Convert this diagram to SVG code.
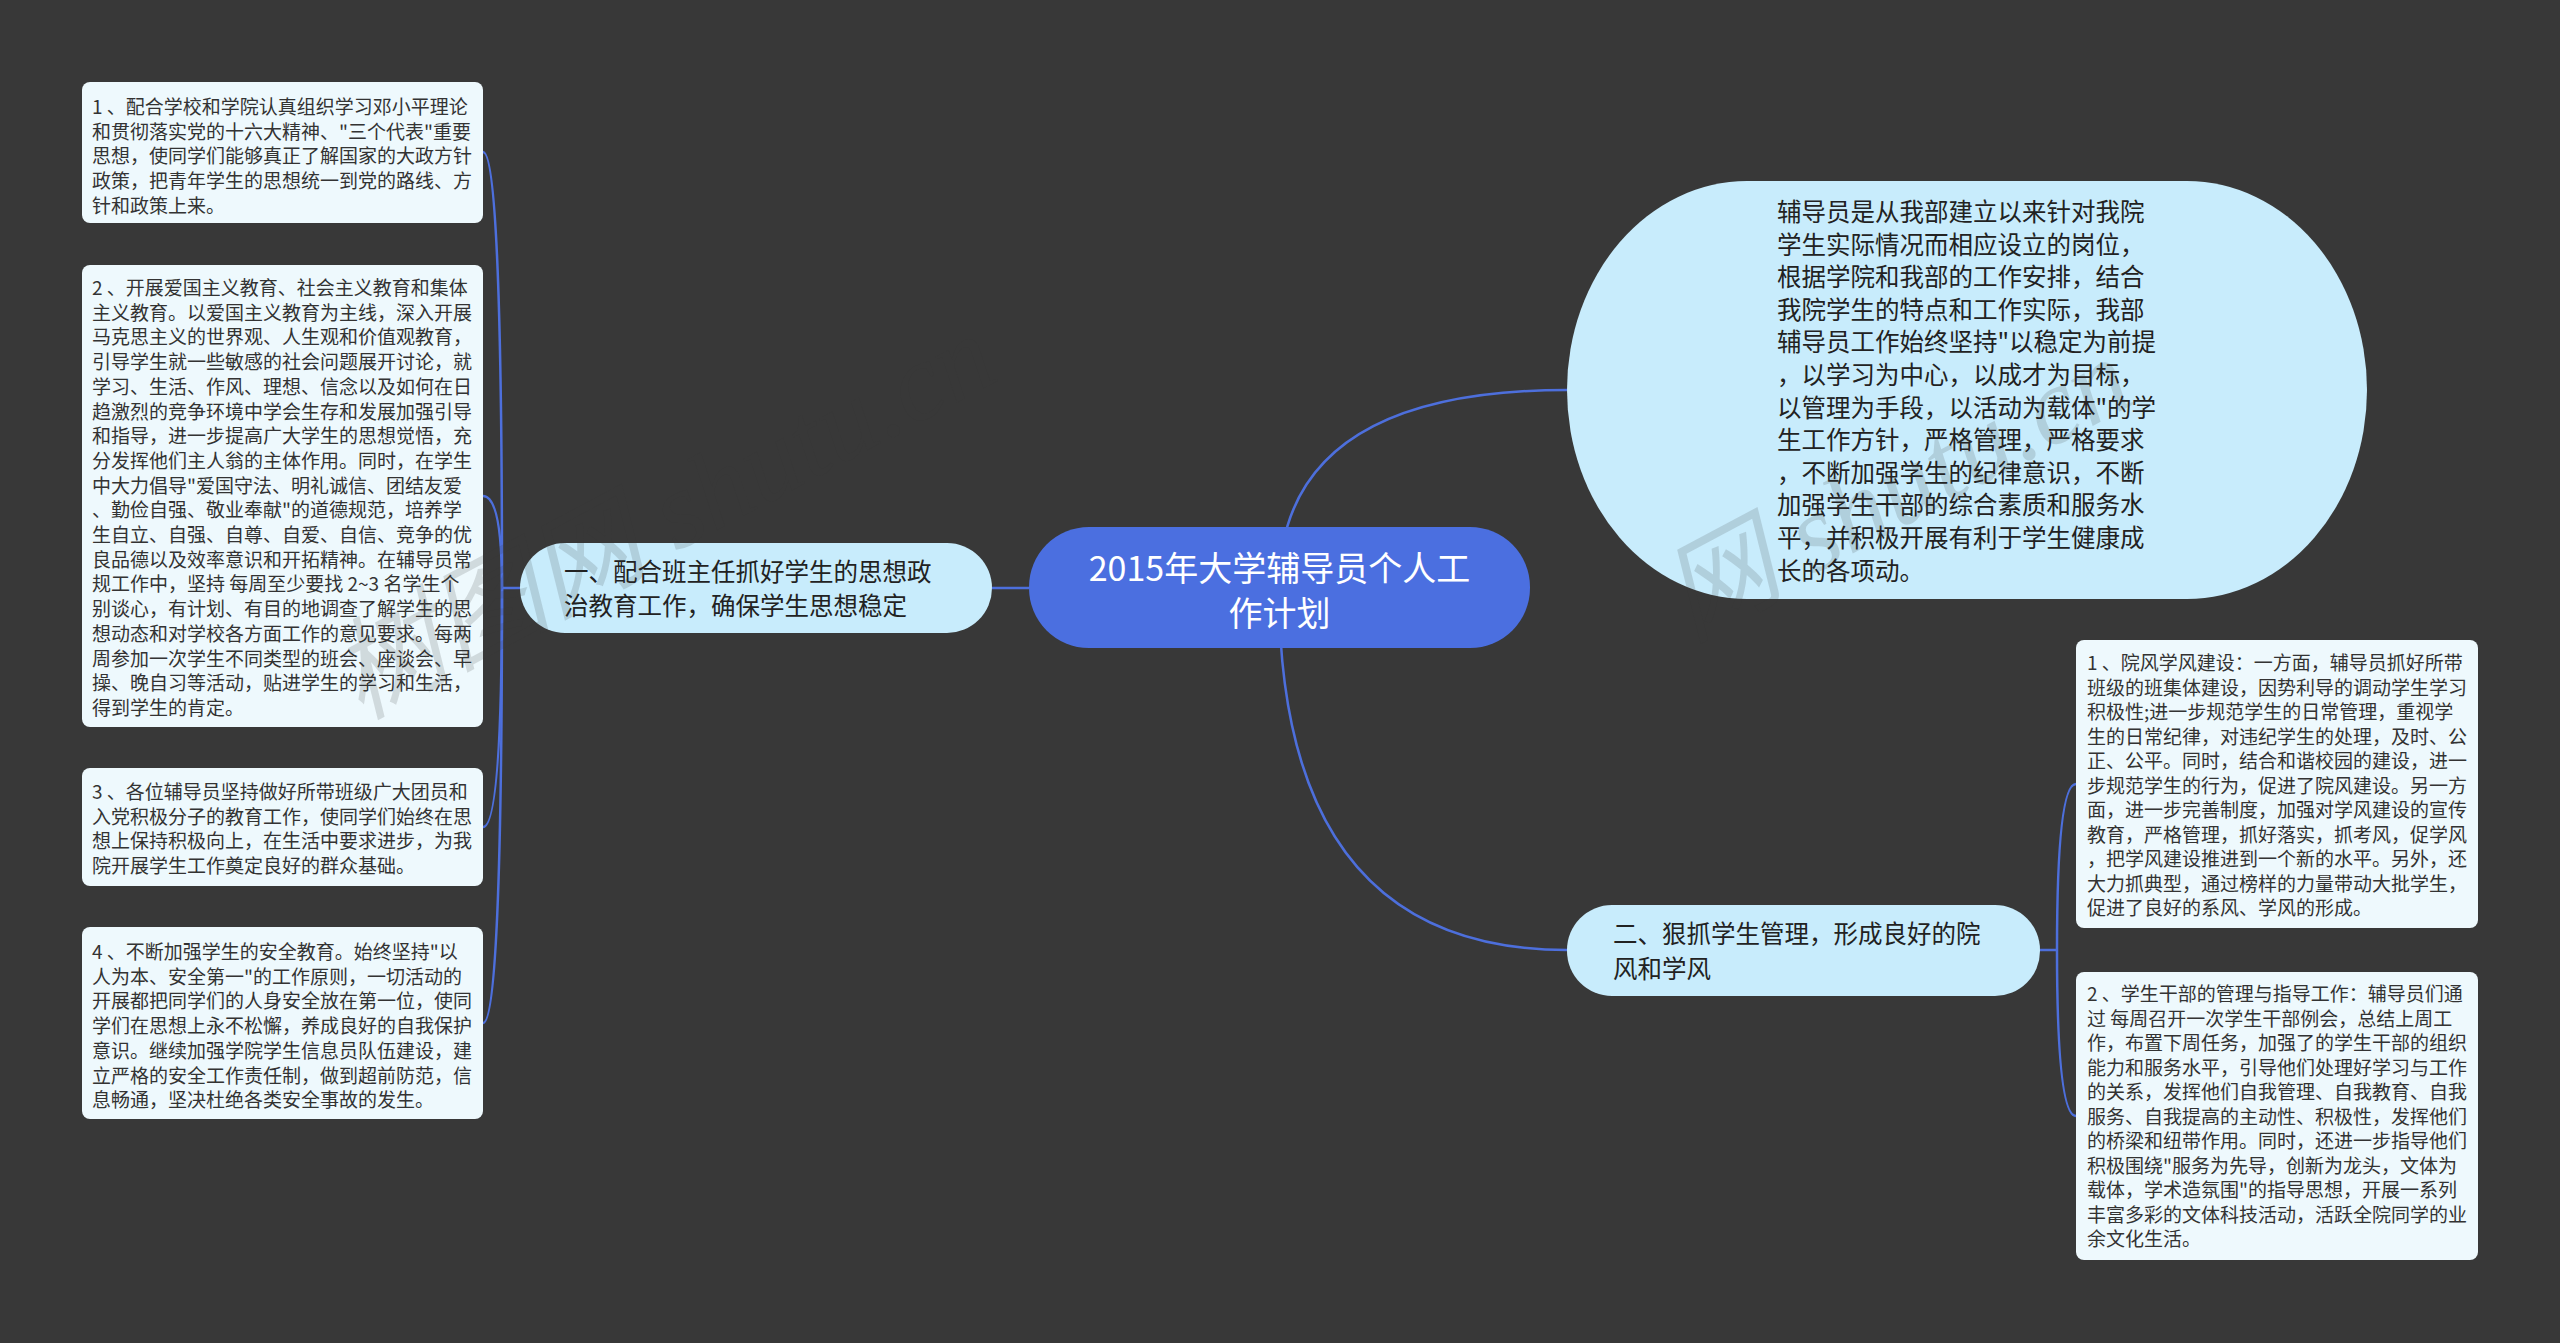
<svg xmlns="http://www.w3.org/2000/svg" width="2560" height="1343" viewBox="0 0 2560 1343">
<style>
.bg{fill:#383838}
.leaf{fill:#eef9fd}
.branch{fill:#c8ecfc}
.root{fill:#4b6fe0}
.conn{fill:none;stroke:#4d6fdc;stroke-width:2.5}
.lt{font-family:"Noto Sans CJK SC","Noto Sans",sans-serif;font-size:19px;fill:#333333;white-space:pre}
.bt{font-family:"Noto Sans CJK SC","Noto Sans",sans-serif;font-size:24.5px;fill:#222222;white-space:pre}
.rt{font-family:"Noto Sans CJK SC","Noto Sans",sans-serif;font-size:34px;fill:#ffffff;text-anchor:middle}
.wm{font-family:"Liberation Serif","Noto Sans CJK SC",serif;font-style:italic;font-size:110px;fill:#383838;fill-opacity:0.16}
</style>
<rect class="bg" x="0" y="0" width="2560" height="1343"/>
<g id="connectors">
<path class="conn" d="M992 588 L1029 588"/>
<path class="conn" d="M1279 588 Q1279 390 1567 390"/>
<path class="conn" d="M1279 588 Q1279 950 1567 950"/>
<path class="conn" d="M520 588 L502 588"/>
<path class="conn" d="M502 588 Q502 152 483 152"/>
<path class="conn" d="M502 588 Q502 496 483 496"/>
<path class="conn" d="M502 588 Q502 827 483 827"/>
<path class="conn" d="M502 588 Q502 1023 483 1023"/>
<path class="conn" d="M2040 950 L2057 950"/>
<path class="conn" d="M2057 950 Q2057 784 2076 784"/>
<path class="conn" d="M2057 950 Q2057 1116 2076 1116"/>
</g>
<g id="root">
<rect class="root" x="1029" y="527" width="501" height="121" rx="60" ry="60"/>
<text class="rt" x="1279.5" y="581"><tspan x="1279.5" y="581">2015年大学辅导员个人工</tspan><tspan x="1279.5" y="626">作计划</tspan></text>
</g>
<g id="branch1">
<rect class="branch" x="520" y="543" width="472" height="90" rx="45" ry="45"/>
<text class="bt" x="564" y="581">一、配合班主任抓好学生的思想政</text>
<text class="bt" x="564" y="615">治教育工作，确保学生思想稳定</text>
</g>
<g id="intro">
<rect class="branch" x="1567" y="181" width="800" height="418" rx="180" ry="209"/>
<text class="bt" x="1777" y="221">辅导员是从我部建立以来针对我院</text>
<text class="bt" x="1777" y="253.6">学生实际情况而相应设立的岗位，</text>
<text class="bt" x="1777" y="286.2">根据学院和我部的工作安排，结合</text>
<text class="bt" x="1777" y="318.8">我院学生的特点和工作实际，我部</text>
<text class="bt" x="1777" y="351.4">辅导员工作始终坚持"以稳定为前提</text>
<text class="bt" x="1777" y="384">，以学习为中心，以成才为目标，</text>
<text class="bt" x="1777" y="416.6">以管理为手段，以活动为载体"的学</text>
<text class="bt" x="1777" y="449.2">生工作方针，严格管理，严格要求</text>
<text class="bt" x="1777" y="481.8">，不断加强学生的纪律意识，不断</text>
<text class="bt" x="1777" y="514.4">加强学生干部的综合素质和服务水</text>
<text class="bt" x="1777" y="547">平，并积极开展有利于学生健康成</text>
<text class="bt" x="1777" y="579.6">长的各项动。</text>
</g>
<g id="branch2">
<rect class="branch" x="1567" y="905" width="473" height="91" rx="45" ry="45"/>
<text class="bt" x="1613" y="943">二、狠抓学生管理，形成良好的院</text>
<text class="bt" x="1613" y="978">风和学风</text>
</g>
<g id="leaf-l1">
<rect class="leaf" x="82" y="82" width="401" height="141" rx="8" ry="8"/>
<text class="lt" x="92" y="114">1 、配合学校和学院认真组织学习邓小平理论</text>
<text class="lt" x="92" y="138.7">和贯彻落实党的十六大精神、"三个代表"重要</text>
<text class="lt" x="92" y="163.4">思想，使同学们能够真正了解国家的大政方针</text>
<text class="lt" x="92" y="188.1">政策，把青年学生的思想统一到党的路线、方</text>
<text class="lt" x="92" y="212.8">针和政策上来。</text>
</g>
<g id="leaf-l2">
<rect class="leaf" x="82" y="265" width="401" height="462" rx="8" ry="8"/>
<text class="lt" x="92" y="295">2 、开展爱国主义教育、社会主义教育和集体</text>
<text class="lt" x="92" y="319.7">主义教育。以爱国主义教育为主线，深入开展</text>
<text class="lt" x="92" y="344.4">马克思主义的世界观、人生观和价值观教育，</text>
<text class="lt" x="92" y="369.1">引导学生就一些敏感的社会问题展开讨论，就</text>
<text class="lt" x="92" y="393.8">学习、生活、作风、理想、信念以及如何在日</text>
<text class="lt" x="92" y="418.5">趋激烈的竞争环境中学会生存和发展加强引导</text>
<text class="lt" x="92" y="443.2">和指导，进一步提高广大学生的思想觉悟，充</text>
<text class="lt" x="92" y="467.9">分发挥他们主人翁的主体作用。同时，在学生</text>
<text class="lt" x="92" y="492.6">中大力倡导"爱国守法、明礼诚信、团结友爱</text>
<text class="lt" x="92" y="517.3">、勤俭自强、敬业奉献"的道德规范，培养学</text>
<text class="lt" x="92" y="542">生自立、自强、自尊、自爱、自信、竞争的优</text>
<text class="lt" x="92" y="566.7">良品德以及效率意识和开拓精神。在辅导员常</text>
<text class="lt" x="92" y="591.4">规工作中，坚持 每周至少要找 2~3 名学生个</text>
<text class="lt" x="92" y="616.1">别谈心，有计划、有目的地调查了解学生的思</text>
<text class="lt" x="92" y="640.8">想动态和对学校各方面工作的意见要求。每两</text>
<text class="lt" x="92" y="665.5">周参加一次学生不同类型的班会、座谈会、早</text>
<text class="lt" x="92" y="690.2">操、晚自习等活动，贴进学生的学习和生活，</text>
<text class="lt" x="92" y="714.9">得到学生的肯定。</text>
</g>
<g id="leaf-l3">
<rect class="leaf" x="82" y="768" width="401" height="118" rx="8" ry="8"/>
<text class="lt" x="92" y="799">3 、各位辅导员坚持做好所带班级广大团员和</text>
<text class="lt" x="92" y="823.7">入党积极分子的教育工作，使同学们始终在思</text>
<text class="lt" x="92" y="848.4">想上保持积极向上，在生活中要求进步，为我</text>
<text class="lt" x="92" y="873.1">院开展学生工作奠定良好的群众基础。</text>
</g>
<g id="leaf-l4">
<rect class="leaf" x="82" y="927" width="401" height="192" rx="8" ry="8"/>
<text class="lt" x="92" y="959">4 、不断加强学生的安全教育。始终坚持"以</text>
<text class="lt" x="92" y="983.7">人为本、安全第一"的工作原则，一切活动的</text>
<text class="lt" x="92" y="1008.4">开展都把同学们的人身安全放在第一位，使同</text>
<text class="lt" x="92" y="1033.1">学们在思想上永不松懈，养成良好的自我保护</text>
<text class="lt" x="92" y="1057.8">意识。继续加强学院学生信息员队伍建设，建</text>
<text class="lt" x="92" y="1082.5">立严格的安全工作责任制，做到超前防范，信</text>
<text class="lt" x="92" y="1107.2">息畅通，坚决杜绝各类安全事故的发生。</text>
</g>
<g id="leaf-r1">
<rect class="leaf" x="2076" y="640" width="402" height="288" rx="8" ry="8"/>
<text class="lt" x="2087" y="670">1 、院风学风建设：一方面，辅导员抓好所带</text>
<text class="lt" x="2087" y="694.5">班级的班集体建设，因势利导的调动学生学习</text>
<text class="lt" x="2087" y="719">积极性;进一步规范学生的日常管理，重视学</text>
<text class="lt" x="2087" y="743.5">生的日常纪律，对违纪学生的处理，及时、公</text>
<text class="lt" x="2087" y="768">正、公平。同时，结合和谐校园的建设，进一</text>
<text class="lt" x="2087" y="792.5">步规范学生的行为，促进了院风建设。另一方</text>
<text class="lt" x="2087" y="817">面，进一步完善制度，加强对学风建设的宣传</text>
<text class="lt" x="2087" y="841.5">教育，严格管理，抓好落实，抓考风，促学风</text>
<text class="lt" x="2087" y="866">，把学风建设推进到一个新的水平。另外，还</text>
<text class="lt" x="2087" y="890.5">大力抓典型，通过榜样的力量带动大批学生，</text>
<text class="lt" x="2087" y="915">促进了良好的系风、学风的形成。</text>
</g>
<g id="leaf-r2">
<rect class="leaf" x="2076" y="972" width="402" height="288" rx="8" ry="8"/>
<text class="lt" x="2087" y="1001">2 、学生干部的管理与指导工作：辅导员们通</text>
<text class="lt" x="2087" y="1025.5">过 每周召开一次学生干部例会，总结上周工</text>
<text class="lt" x="2087" y="1050">作，布置下周任务，加强了的学生干部的组织</text>
<text class="lt" x="2087" y="1074.5">能力和服务水平，引导他们处理好学习与工作</text>
<text class="lt" x="2087" y="1099">的关系，发挥他们自我管理、自我教育、自我</text>
<text class="lt" x="2087" y="1123.5">服务、自我提高的主动性、积极性，发挥他们</text>
<text class="lt" x="2087" y="1148">的桥梁和纽带作用。同时，还进一步指导他们</text>
<text class="lt" x="2087" y="1172.5">积极围绕"服务为先导，创新为龙头，文体为</text>
<text class="lt" x="2087" y="1197">载体，学术造氛围"的指导思想，开展一系列</text>
<text class="lt" x="2087" y="1221.5">丰富多彩的文体科技活动，活跃全院同学的业</text>
<text class="lt" x="2087" y="1246">余文化生活。</text>
</g>
<g id="watermark">
<text class="wm" transform="translate(1690 640) rotate(-28)">网 shutu.cn</text>
<text class="wm" transform="translate(360 720) rotate(-28)">树图网 shutu.cn</text>
</g>
</svg>
